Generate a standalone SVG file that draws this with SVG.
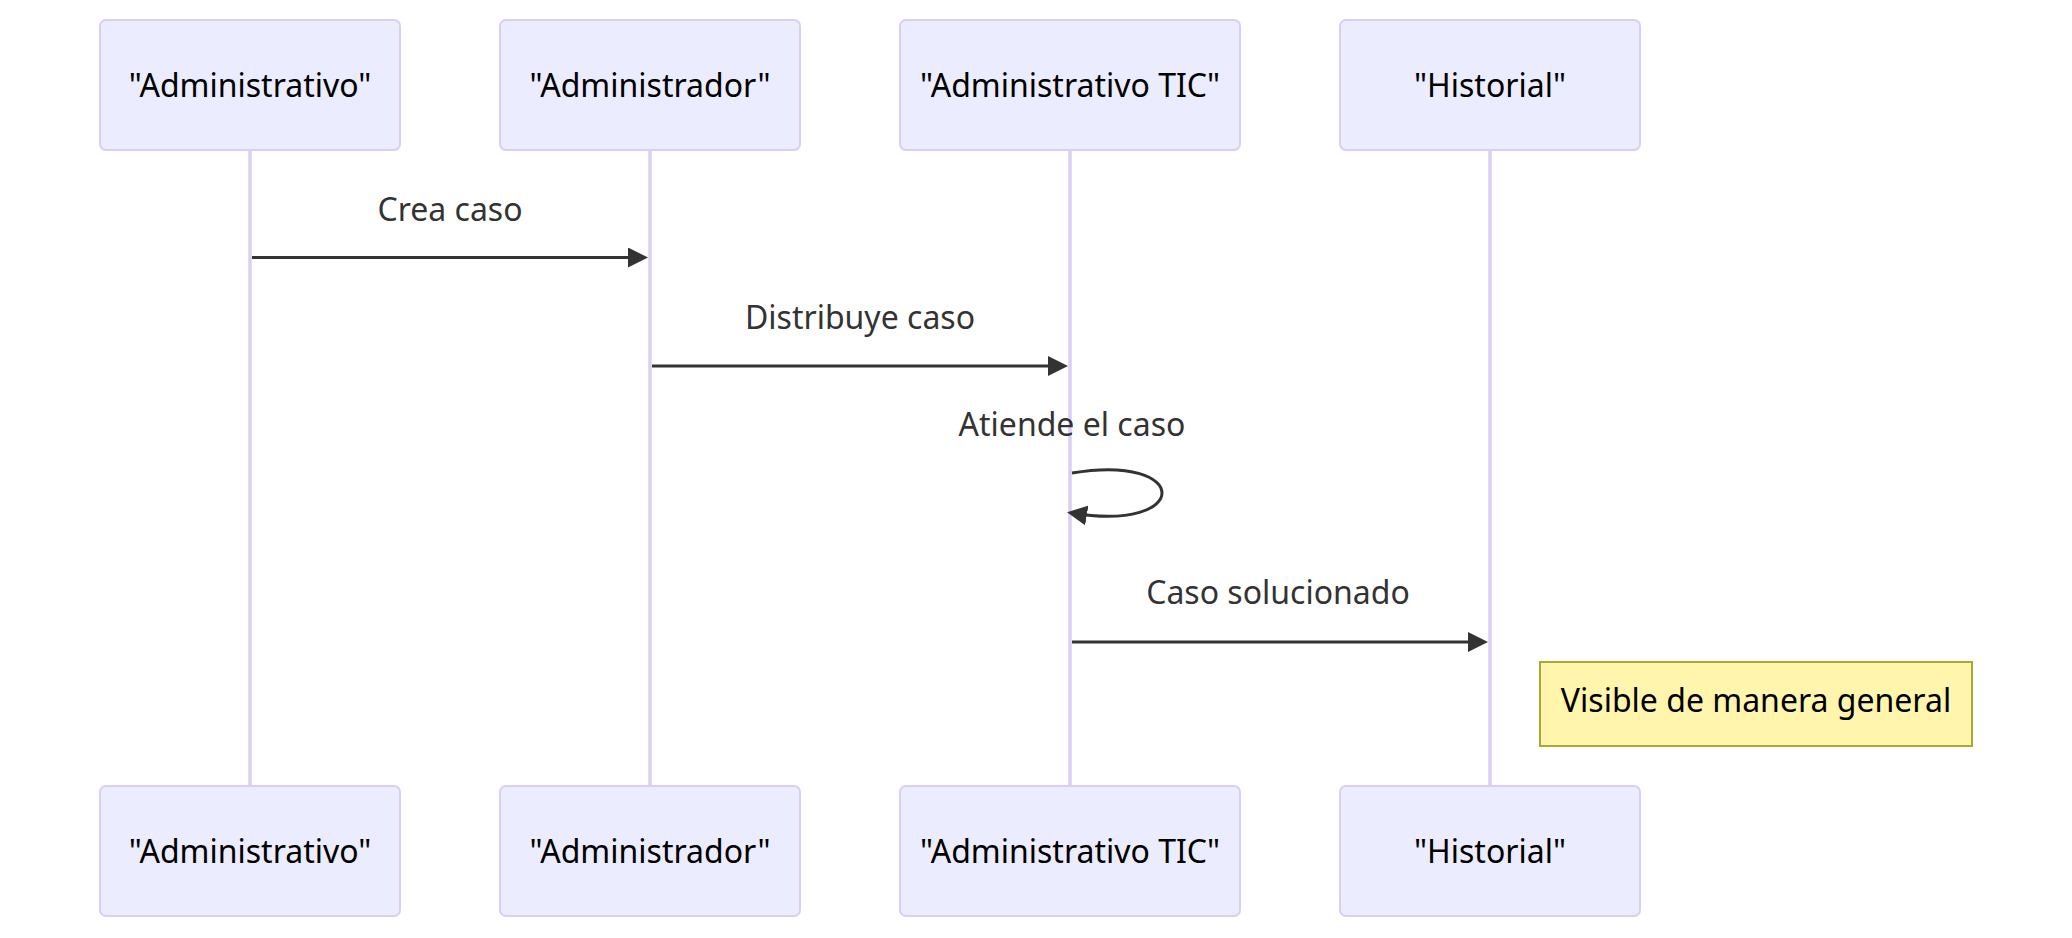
<svg xmlns="http://www.w3.org/2000/svg" width="2072" height="938" viewBox="0 0 2072 938">
<style>
.actor{fill:#ECECFF;stroke:#DACEF3;stroke-width:2}
.atext{font-family:"Noto Sans","Open Sans",sans-serif;font-size:32px;fill:#000;text-anchor:middle}
.life{stroke:#DACEF3;stroke-width:3.5;fill:none}
.msg{stroke:#333;stroke-width:3;fill:none}
.mtext{font-family:"Noto Sans","Open Sans",sans-serif;font-size:32px;fill:#333;text-anchor:middle}
.note{fill:#FFF5AD;stroke:#AAAA33;stroke-width:2}
.ntext{font-family:"Noto Sans","Open Sans",sans-serif;font-size:32px;fill:#000;text-anchor:middle}
</style>
<defs>
<marker id="arrow" viewBox="0 0 10 10" refX="7.5" refY="5" markerWidth="20" markerHeight="20" markerUnits="userSpaceOnUse" orient="auto">
<path d="M0,0 L10,5 L0,10 z" fill="#333"/>
</marker>
</defs>
<rect width="2072" height="938" fill="#fff"/>
<g id="lifelines">
<line class="life" x1="250" y1="150" x2="250" y2="786"/>
<line class="life" x1="650" y1="150" x2="650" y2="786"/>
<line class="life" x1="1070" y1="150" x2="1070" y2="786"/>
<line class="life" x1="1490" y1="150" x2="1490" y2="786"/>
</g>
<g id="actor-administrativo">
<rect class="actor" x="100" y="20" width="300" height="130" rx="6"/>
<text class="atext" x="250" y="97">"Administrativo"</text>
<rect class="actor" x="100" y="786" width="300" height="130" rx="6"/>
<text class="atext" x="250" y="863">"Administrativo"</text>
</g>
<g id="actor-administrador">
<rect class="actor" x="500" y="20" width="300" height="130" rx="6"/>
<text class="atext" x="650" y="97">"Administrador"</text>
<rect class="actor" x="500" y="786" width="300" height="130" rx="6"/>
<text class="atext" x="650" y="863">"Administrador"</text>
</g>
<g id="actor-administrativo-tic">
<rect class="actor" x="900" y="20" width="340" height="130" rx="6"/>
<text class="atext" x="1070" y="97">"Administrativo TIC"</text>
<rect class="actor" x="900" y="786" width="340" height="130" rx="6"/>
<text class="atext" x="1070" y="863">"Administrativo TIC"</text>
</g>
<g id="actor-historial">
<rect class="actor" x="1340" y="20" width="300" height="130" rx="6"/>
<text class="atext" x="1490" y="97">"Historial"</text>
<rect class="actor" x="1340" y="786" width="300" height="130" rx="6"/>
<text class="atext" x="1490" y="863">"Historial"</text>
</g>
<g id="connectors">
<text class="mtext" x="450" y="221">Crea caso</text>
<line class="msg" x1="252" y1="257.5" x2="643" y2="257.5" marker-end="url(#arrow)"/>
<text class="mtext" x="860" y="329">Distribuye caso</text>
<line class="msg" x1="652" y1="366" x2="1063" y2="366" marker-end="url(#arrow)"/>
<text class="mtext" x="1072" y="436">Atiende el caso</text>
<path class="msg" d="M1072,473 C1192,453 1192,533 1072,513" marker-end="url(#arrow)"/>
<text class="mtext" x="1278" y="604">Caso solucionado</text>
<line class="msg" x1="1072" y1="642" x2="1483" y2="642" marker-end="url(#arrow)"/>
</g>
<g id="note">
<rect class="note" x="1540" y="662" width="432" height="84"/>
<text class="ntext" x="1756" y="712">Visible de manera general</text>
</g>
</svg>
